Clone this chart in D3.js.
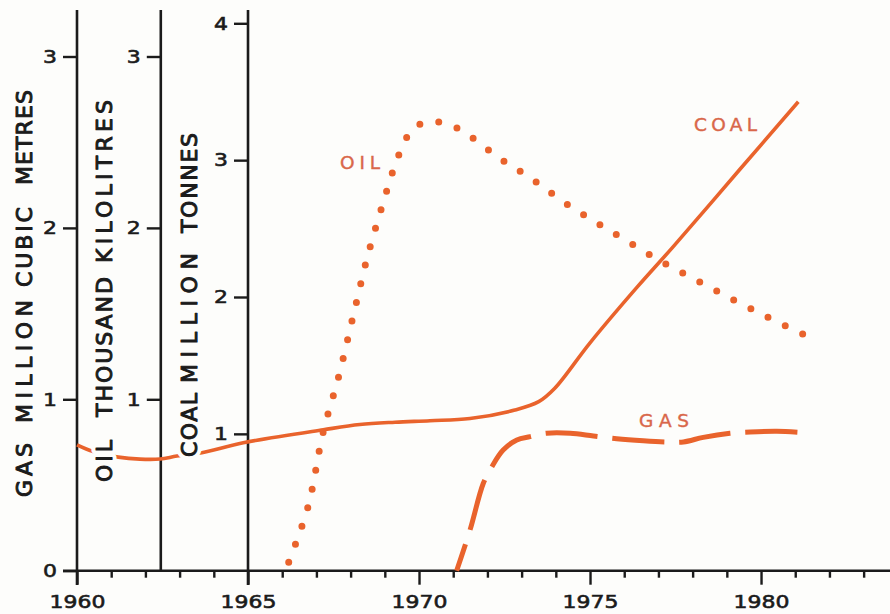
<!DOCTYPE html>
<html><head><meta charset="utf-8">
<script src="https://cdn.jsdelivr.net/npm/d3@7"></script>
<style>html,body{margin:0;padding:0;background:#fdfdfb;}</style>
</head><body>
<script>
// ---------------- DATA ----------------
const coalYears  = [1960, 1960.48, 1961.21, 1961.84, 1962.43, 1962.92, 1963.65, 1964.86, 1967.2, 1968.27, 1969.3, 1970.32, 1971.49, 1972.8, 1973.5, 1973.97, 1975.0, 1976.37, 1977.44, 1979.39, 1981.09];
const coalValues = [0.92, 0.87, 0.83, 0.815, 0.816, 0.838, 0.862, 0.935, 1.03, 1.068, 1.085, 1.096, 1.112, 1.174, 1.235, 1.333, 1.665, 2.07, 2.37, 2.935, 3.427];

const oilYears  = [1966.19, 1966.75, 1967.2, 1967.66, 1968.08, 1968.49, 1968.97, 1969.32, 1969.53, 1969.82, 1970.35, 1970.91, 1971.39, 1972.33, 1973.27, 1974.24, 1975.2, 1976.19, 1977.21, 1978.25, 1979.29, 1980.29, 1981.22];
const oilValues = [0.05, 0.37, 0.81, 1.14, 1.49, 1.83, 2.16, 2.38, 2.48, 2.58, 2.62, 2.60, 2.55, 2.41, 2.29, 2.15, 2.03, 1.91, 1.79, 1.68, 1.57, 1.47, 1.38];

const gasYears  = [1971.1, 1971.49, 1971.88, 1972.13, 1972.46, 1972.86, 1973.25, 1973.73, 1974.42, 1975.1, 1975.78, 1976.56, 1977.24, 1977.73, 1978.31, 1979.09, 1979.68, 1980.46, 1981.09];
const gasValues = [0, 0.237, 0.51, 0.607, 0.704, 0.763, 0.782, 0.802, 0.802, 0.786, 0.77, 0.758, 0.751, 0.751, 0.778, 0.802, 0.809, 0.813, 0.807];

const xTickYears  = d3.range(1960, 1984);
const xTickLabels = ["1960", "1965", "1970", "1975", "1980"];
const gasTicks  = [0, 1, 2, 3];
const oilTicks  = [1, 2, 3];
const coalTicks = [1, 2, 3, 4];
const oilAxisYear = 1962.45;

const gasTitle  = ["GAS", "MILLION", "CUBIC", "METRES"];
const oilTitle  = ["OIL", "THOUSAND", "KILOLITRES"];
const coalTitle = ["COAL", "MILLION", "TONNES"];
const seriesNames = ["OIL", "COAL", "GAS"];

// ---------------- LAYOUT ----------------
const W = 890, H = 614;
const BG = "#fdfdfb", ORANGE = "#e9632c", LABEL = "#d9674a", INK = "#1b1b1b";
const font = "'DejaVu Sans', sans-serif";

const x = d3.scaleLinear().domain([1960, 1983.8]).range([77, 891]);
const yGO = d3.scaleLinear().domain([0, 3]).range([570.7, 56.5]);   // gas & oil
const yCoal = d3.scaleLinear().domain([0, 4]).range([570.7, 23.3]);
const axisTop = 10, axisBottomLong = 585;
const STRETCH = 1.22;

const svg = d3.select("body").append("svg")
  .attr("width", W).attr("height", H)
  .style("display", "block").style("background", BG);

function styleNum(sel) {
  sel.style("font-family", font).style("font-size", "18px")
    .attr("fill", INK).attr("stroke", INK).attr("stroke-width", 0.6)
    .attr("transform", function () {
      const tx = +this.getAttribute("x") || 0;
      return `translate(${tx},0) scale(${STRETCH},1) translate(${-tx},0)`;
    });
}

// X axis
const xAxis = d3.axisBottom(x).tickValues(xTickYears).tickSize(7).tickSizeOuter(0)
  .tickFormat(d => xTickLabels.includes(String(d)) ? String(d) : "");
const gx = svg.append("g").attr("transform", `translate(0,${yGO(0)})`).call(xAxis);
gx.select(".domain").remove();
gx.selectAll(".tick line").attr("stroke", INK).attr("stroke-width", 2.4)
  .attr("y2", d => d % 5 === 0 ? 14 : 7);
gx.selectAll(".tick text").attr("y", 24).attr("dy", "0.72em").call(styleNum);
svg.append("line").attr("x1", 63).attr("x2", W).attr("y1", yGO(0)).attr("y2", yGO(0))
  .attr("stroke", INK).attr("stroke-width", 2.6);

// Y axes
function yAxis(scale, ticks, xpos, bottom) {
  const g = svg.append("g").attr("transform", `translate(${xpos},0)`)
    .call(d3.axisLeft(scale).tickValues(ticks).tickSize(14).tickPadding(6).tickFormat(d3.format("d")));
  g.select(".domain").remove();
  g.selectAll(".tick line").attr("stroke", INK).attr("stroke-width", 2.4);
  g.selectAll(".tick text").call(styleNum);
  svg.append("line").attr("x1", xpos).attr("x2", xpos).attr("y1", axisTop).attr("y2", bottom)
    .attr("stroke", INK).attr("stroke-width", 2.6);
}
yAxis(yGO, gasTicks, x(1960), axisBottomLong);
yAxis(yGO, oilTicks, x(oilAxisYear), yGO(0));
yAxis(yCoal, coalTicks, x(1965), axisBottomLong);

// Series
const zip = (xs, vs) => xs.map((d, i) => [d, vs[i]]);
const line = ys => d3.line().x(d => x(d[0])).y(d => ys(d[1])).curve(d3.curveCatmullRom.alpha(0.5));

svg.append("path").datum(zip(coalYears, coalValues)).attr("d", line(yCoal))
  .attr("fill", "none").attr("stroke", ORANGE).attr("stroke-width", 3.6);

const oilPath = svg.append("path").datum(zip(oilYears, oilValues)).attr("d", line(yGO))
  .attr("fill", "none").attr("stroke", ORANGE).attr("stroke-width", 7)
  .attr("stroke-linecap", "round");
const oilLen = oilPath.node().getTotalLength();
const nDots = Math.round(oilLen / 19.3);
const gap = (oilLen - 0.5) / nDots;
oilPath.attr("stroke-dasharray", `0 ${gap}`);

svg.append("path").datum(zip(gasYears, gasValues)).attr("d", line(yGO))
  .attr("fill", "none").attr("stroke", ORANGE).attr("stroke-width", 5)
  .attr("stroke-dasharray", "52 15").attr("stroke-dashoffset", 24);

// Axis titles (rotated; a background halo interrupts the coal line)
const titleLayout = [
  {words: gasTitle,  bx: 31.5, spans: [[443, 497], [300, 423], [207, 287], [90, 185]]},
  {words: oilTitle,  bx: 112,  spans: [[440, 482], [277, 417], [100, 263]]},
  {words: coalTitle, bx: 197,  spans: [[393, 457], [253, 383], [133, 233]]}
];
["halo", "ink"].forEach(layer => {
  titleLayout.forEach(t => {
    t.words.forEach((w, i) => {
      const [top, bot] = t.spans[i];
      svg.append("text")
        .attr("transform", `translate(${t.bx},${bot}) rotate(-90)`)
        .attr("textLength", bot - top).attr("lengthAdjust", "spacing")
        .style("font-family", font).style("font-size", "22px")
        .attr("fill", layer === "halo" ? BG : INK)
        .attr("stroke", layer === "halo" ? BG : INK)
        .attr("stroke-width", layer === "halo" ? 9 : 1.0)
        .attr("stroke-linejoin", "round")
        .text(w);
    });
  });
});

// Series labels
const labelLayout = [
  {x: 340, y: 169, w: 40},
  {x: 694, y: 131, w: 63},
  {x: 639, y: 427, w: 50}
];
seriesNames.forEach((n, i) => {
  const L = labelLayout[i];
  svg.append("text").attr("x", L.x).attr("y", L.y)
    .attr("textLength", L.w).attr("lengthAdjust", "spacing")
    .style("font-family", font).style("font-size", "18.5px")
    .attr("fill", LABEL).attr("stroke", LABEL).attr("stroke-width", 0.4).text(n);
});
</script>
</body></html>
